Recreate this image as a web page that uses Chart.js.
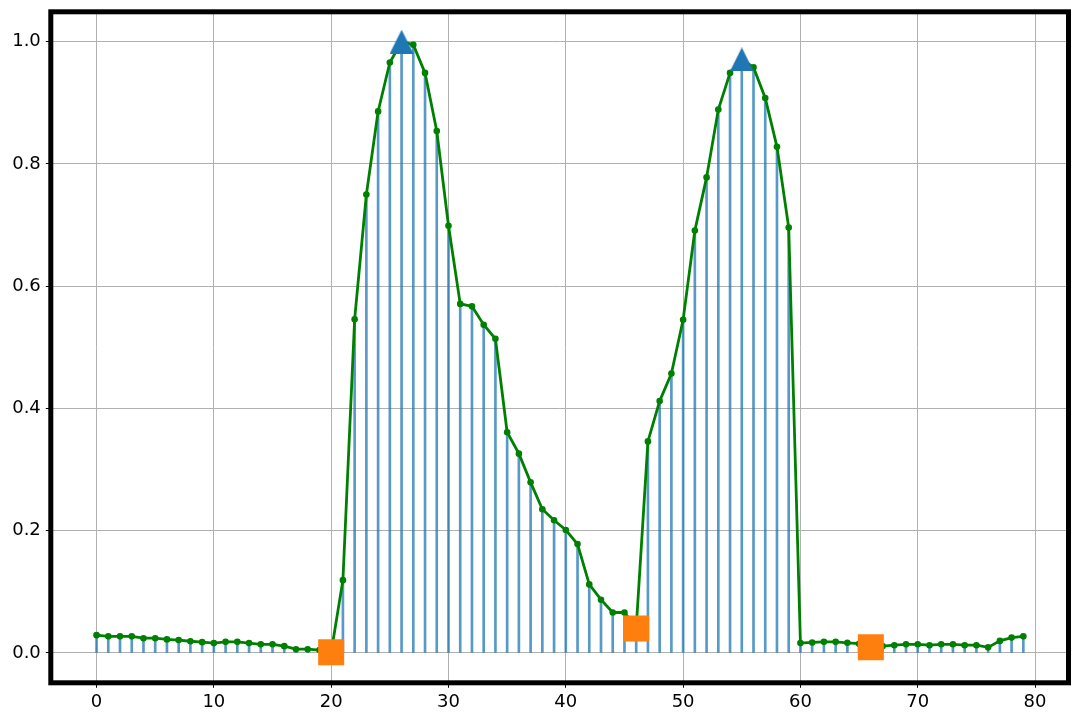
<!DOCTYPE html>
<html>
<head>
<meta charset="utf-8">
<script src="https://cdn.jsdelivr.net/npm/chart.js@4/dist/chart.umd.min.js"></script>
<style>
    body { margin: 0; background: #fff; }
    #grafico { display: block; }
</style>
</head>
<body>
<canvas id="grafico" width="1080" height="720"></canvas>
<script>
// valores do sinal, amostra 0..79
const valores = [
    0.029, 0.027, 0.027, 0.027, 0.024, 0.024, 0.022, 0.021, 0.019, 0.0175,
    0.016, 0.018, 0.018, 0.016, 0.014, 0.014, 0.011, 0.006, 0.006, 0.0045,
    0.001, 0.119, 0.546, 0.750, 0.886, 0.966, 1.000, 0.995, 0.949, 0.854,
    0.699, 0.571, 0.567, 0.537, 0.514, 0.361, 0.326, 0.279, 0.235, 0.217,
    0.201, 0.178, 0.112, 0.087, 0.066, 0.066, 0.040, 0.346, 0.412, 0.457,
    0.545, 0.691, 0.778, 0.889, 0.949, 0.971, 0.958, 0.908, 0.828, 0.696,
    0.016, 0.017, 0.018, 0.018, 0.0165, 0.015, 0.009, 0.011, 0.0125, 0.014,
    0.014, 0.0125, 0.014, 0.014, 0.0125, 0.0125, 0.009, 0.0196, 0.025, 0.027
];
const picos = [26, 55];
const vales = [20, 46, 66];

const ticksX = [0, 10, 20, 30, 40, 50, 60, 70, 80];
const ticksY = [0.0, 0.2, 0.4, 0.6, 0.8, 1.0];

const FONTE = { family: 'DejaVu Sans', size: 18 };

function pontos(indices) {
    return indices.map(i => ({ x: i, y: valores[i] }));
}

function marcadorTriangulo(tam, cor) {
    const c = document.createElement('canvas');
    c.width = tam; c.height = tam;
    const ctx = c.getContext('2d');
    ctx.fillStyle = cor;
    ctx.beginPath();
    ctx.moveTo(tam / 2, 0);
    ctx.lineTo(tam, tam);
    ctx.lineTo(0, tam);
    ctx.closePath();
    ctx.fill();
    return c;
}

// moldura grossa em volta da area do grafico
const moldura = {
    id: 'moldura',
    afterDatasetsDraw(chart) {
        const a = chart.chartArea;
        const ctx = chart.ctx;
        ctx.save();
        ctx.strokeStyle = '#000';
        ctx.lineWidth = 5;
        ctx.strokeRect(a.left, a.top, a.right - a.left, a.bottom - a.top);
        ctx.restore();
    }
};

new Chart(document.getElementById('grafico'), {
    type: 'line',
    data: {
        datasets: [
            {
                type: 'bar',
                data: valores.map((v, i) => ({ x: i, y: v })),
                backgroundColor: 'rgba(31,119,180,0.75)',
                barThickness: 2,
                order: 4,
            },
            {
                data: valores.map((v, i) => ({ x: i, y: v })),
                borderColor: '#008000',
                borderWidth: 2.8,
                pointRadius: 3.3,
                pointBackgroundColor: '#008000',
                pointBorderWidth: 0,
                tension: 0,
                order: 3,
            },
            {
                data: pontos(picos),
                showLine: false,
                pointStyle: marcadorTriangulo(24, '#1f77b4'),
                pointRadius: 12,
                order: 2,
            },
            {
                data: pontos(vales),
                showLine: false,
                pointStyle: 'rect',
                pointRadius: 18.4,
                pointBackgroundColor: '#ff7f0e',
                pointBorderWidth: 0,
                order: 1,
            }
        ]
    },
    options: {
        responsive: false,
        devicePixelRatio: 1,
        animation: false,
        layout: { autoPadding: false, padding: { top: 11.8, right: 11.5, left: 0, bottom: 0 } },
        plugins: { legend: { display: false }, tooltip: { enabled: false } },
        scales: {
            x: {
                type: 'linear',
                offset: false,
                min: -3.9,
                max: 82.85,
                afterBuildTicks: s => { s.ticks = ticksX.map(v => ({ value: v })); },
                afterFit: s => { s.height = 37.2; s.paddingLeft = 0; s.paddingRight = 0; },
                grid: { offset: false, color: '#b0b0b0', lineWidth: 1, tickColor: '#000', tickLength: 5, tickWidth: 1 },
                border: { display: false },
                ticks: { font: FONTE, color: '#000', padding: 4, maxRotation: 0, autoSkip: false,
                         callback: v => String(v) }
            },
            y: {
                min: -0.049,
                max: 1.049,
                afterBuildTicks: s => { s.ticks = ticksY.map(v => ({ value: v })); },
                afterFit: s => { s.width = 50.8; s.paddingTop = 0; s.paddingBottom = 0; },
                grid: { color: '#b0b0b0', lineWidth: 1, tickColor: '#000', tickLength: 5, tickWidth: 1 },
                border: { display: false },
                ticks: { font: FONTE, color: '#000', padding: 5, autoSkip: false,
                         callback: v => Number(v).toFixed(1) }
            }
        }
    },
    plugins: [moldura]
});
</script>
</body>
</html>
